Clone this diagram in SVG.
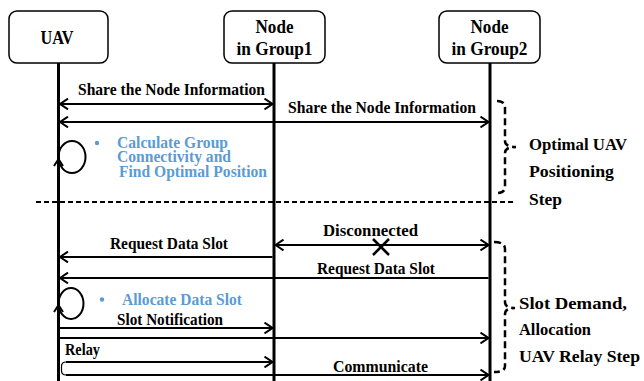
<svg xmlns="http://www.w3.org/2000/svg" width="644" height="381" viewBox="0 0 644 381">
  <defs>
    <marker id="arr" viewBox="0 0 10 12" refX="9" refY="6" markerWidth="10" markerHeight="12" markerUnits="userSpaceOnUse" orient="auto-start-reverse">
      <path d="M1,0.6 L9,6 L1,11.4" fill="none" stroke="#000" stroke-width="2"/>
    </marker>
    <style>
      .box { fill: #fff; stroke: #000; stroke-width: 1.5; }
      .life { stroke: #000; stroke-width: 3; fill: none; }
      .msg { stroke: #000; stroke-width: 2; fill: none; }
      .msg-end { marker-end: url(#arr); }
      .msg-both { marker-start: url(#arr); marker-end: url(#arr); }
      .loop { stroke: #000; stroke-width: 2; fill: none; }
      .brace { stroke: #000; stroke-width: 2.5; fill: none; stroke-dasharray: 7 4; }
      .sep { stroke: #000; stroke-width: 2; stroke-dasharray: 5 3; }
      text { font-family: "Liberation Serif", "Times New Roman", serif; font-weight: bold; fill: #000; }
      .title { font-size: 19px; text-anchor: middle; }
      .lbl { font-size: 16.5px; }
      .note { font-size: 16.5px; fill: #5b9bd5; }
      .step { font-size: 17.5px; }
      .dot { fill: #5b9bd5; }
    </style>
  </defs>

  <!-- participants -->
  <g id="uav">
    <rect class="box" x="9" y="11" width="99" height="52" rx="8"/>
    <text class="title" x="57" y="44" textLength="33" lengthAdjust="spacingAndGlyphs">UAV</text>
  </g>
  <g id="group1">
    <rect class="box" x="224" y="11" width="101" height="52" rx="8"/>
    <text class="title" x="274.5" y="33" textLength="38" lengthAdjust="spacingAndGlyphs">Node</text>
    <text class="title" x="274.5" y="55" textLength="76" lengthAdjust="spacingAndGlyphs">in Group1</text>
  </g>
  <g id="group2">
    <rect class="box" x="439" y="11" width="101" height="52" rx="8"/>
    <text class="title" x="489.5" y="33" textLength="38" lengthAdjust="spacingAndGlyphs">Node</text>
    <text class="title" x="489.5" y="55" textLength="76" lengthAdjust="spacingAndGlyphs">in Group2</text>
  </g>

  <!-- lifelines -->
  <g id="lifelines">
    <line class="life" x1="58.5" y1="63" x2="58.5" y2="381"/>
    <line class="life" x1="274" y1="63" x2="274" y2="381"/>
    <line class="life" x1="490" y1="63" x2="490" y2="381"/>
  </g>

  <!-- messages -->
  <g id="connectors">
    <line class="msg msg-both" x1="60" y1="104" x2="272.5" y2="104"/>
    <line class="msg msg-both" x1="60" y1="122" x2="488.5" y2="122"/>
    <line class="msg msg-both" x1="275.5" y1="245" x2="488.5" y2="245"/>
    <line class="msg msg-end" x1="272.5" y1="257" x2="60" y2="257"/>
    <line class="msg msg-end" x1="488.5" y1="278" x2="60" y2="278"/>
    <line class="msg msg-end" x1="60" y1="328" x2="272.5" y2="328"/>
    <line class="msg msg-end" x1="60" y1="338" x2="488.5" y2="338"/>
    <line class="msg msg-end" x1="66" y1="362" x2="272.5" y2="362"/>
    <line class="msg msg-end" x1="66" y1="375" x2="488.5" y2="375"/>
    <!-- relay hand-over between the two transfers -->
    <path d="M66,362 Q61.5,362 61.5,366.5 L61.5,370.5 Q61.5,375 66,375" fill="none" stroke="#000" stroke-width="1.2"/>
    <!-- self loops on the UAV lifeline -->
    <ellipse class="loop" cx="72" cy="157" rx="13.5" ry="16"/>
    <path class="loop" d="M54,166 L58.5,159 L63,166"/>
    <ellipse class="loop" cx="71" cy="303.5" rx="12.5" ry="15.5"/>
    <path class="loop" d="M54,312 L58.5,305 L63,312"/>
    <!-- broken link -->
    <path d="M373,239 L389,255 M389,239 L373,255" stroke="#000" stroke-width="2.5" fill="none"/>
  </g>

  <!-- message labels -->
  <g id="labels">
    <text class="lbl" x="78" y="95" textLength="187" lengthAdjust="spacingAndGlyphs">Share the Node Information</text>
    <text class="lbl" x="288" y="113" textLength="188" lengthAdjust="spacingAndGlyphs">Share the Node Information</text>
    <text class="lbl" x="323" y="236" textLength="95" lengthAdjust="spacingAndGlyphs">Disconnected</text>
    <text class="lbl" x="110" y="249" textLength="118" lengthAdjust="spacingAndGlyphs">Request Data Slot</text>
    <text class="lbl" x="317" y="274" textLength="118" lengthAdjust="spacingAndGlyphs">Request Data Slot</text>
    <text class="lbl" x="117" y="325" textLength="106" lengthAdjust="spacingAndGlyphs">Slot Notification</text>
    <text class="lbl" x="65" y="355" textLength="35" lengthAdjust="spacingAndGlyphs">Relay</text>
    <text class="lbl" x="333" y="372" textLength="95" lengthAdjust="spacingAndGlyphs">Communicate</text>
  </g>

  <!-- UAV actions -->
  <g id="action-position">
    <circle class="dot" cx="97" cy="143" r="2.2"/>
    <text class="note" x="117" y="147.5" textLength="111" lengthAdjust="spacingAndGlyphs">Calculate Group</text>
    <text class="note" x="117" y="162" textLength="114" lengthAdjust="spacingAndGlyphs">Connectivity and</text>
    <text class="note" x="119" y="176.5" textLength="148" lengthAdjust="spacingAndGlyphs">Find Optimal Position</text>
  </g>
  <g id="action-allocate">
    <circle class="dot" cx="102" cy="299.5" r="2.2"/>
    <text class="note" x="122" y="305" textLength="120" lengthAdjust="spacingAndGlyphs">Allocate Data Slot</text>
  </g>

  <!-- phase separator -->
  <line class="sep" x1="36" y1="202" x2="514" y2="202"/>

  <!-- phase braces -->
  <g id="phase-positioning">
    <path class="brace" d="M497,101 Q505,101 505,108 L505,141 Q505,147 516,147 Q505,147 505,153 L505,187 Q505,193 497,193"/>
    <text class="step" x="529" y="150" textLength="98" lengthAdjust="spacingAndGlyphs">Optimal UAV</text>
    <text class="step" x="529" y="177" textLength="85" lengthAdjust="spacingAndGlyphs">Positioning</text>
    <text class="step" x="529" y="205" textLength="33" lengthAdjust="spacingAndGlyphs">Step</text>
  </g>
  <g id="phase-relay">
    <path class="brace" d="M494,242 Q505,242 505,249 L505,302 Q505,308 515,308 Q505,308 505,314 L505,366 Q505,372 494,372"/>
    <text class="step" x="519" y="309" textLength="108" lengthAdjust="spacingAndGlyphs">Slot Demand,</text>
    <text class="step" x="519" y="335" textLength="72" lengthAdjust="spacingAndGlyphs">Allocation</text>
    <text class="step" x="519" y="362" textLength="121" lengthAdjust="spacingAndGlyphs">UAV Relay Step</text>
  </g>
</svg>
